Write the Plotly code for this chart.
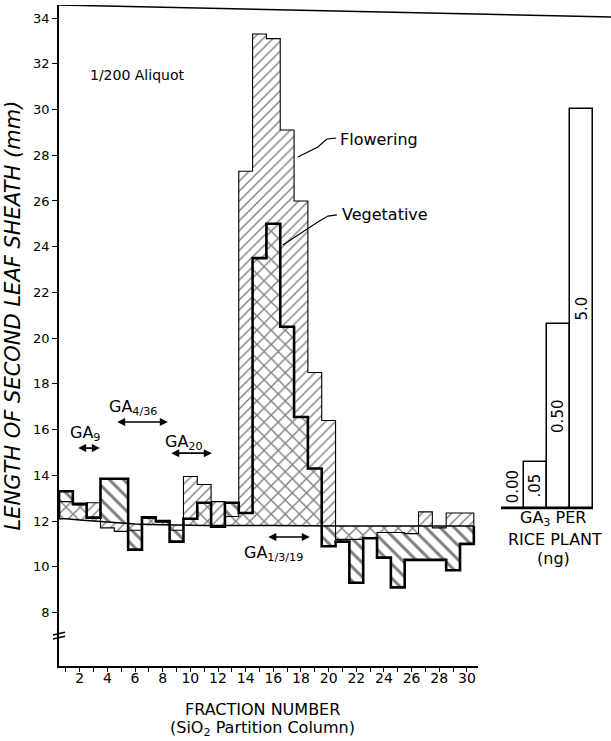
import numpy as np
import plotly.graph_objects as go

# ---------------- data ----------------
fractions = list(range(1, 31))
flowering = [12.85, 12.7, 12.8, 11.7, 11.55, 11.6, 12.2, 11.95, 11.6, 13.95,
             13.6, 12.85, 12.2, 27.3, 33.3, 33.1, 29.1, 26.0, 18.5, 16.4,
             11.2, 11.2, 11.25, 11.5, 11.5, 11.45, 12.4, 11.7, 12.35, 12.35]
vegetative = [13.3, 12.75, 12.15, 13.85, 13.85, 10.75, 12.15, 12.0, 11.1, 12.1,
              12.8, 11.75, 12.8, 12.35, 23.5, 25.0, 20.5, 16.55, 14.3, 10.9,
              11.1, 9.3, 11.25, 10.4, 9.1, 10.3, 10.3, 10.3, 9.85, 11.0]
control = [12.1, 12.05, 12.0, 11.95, 11.9, 11.87, 11.85, 11.83, 11.82, 11.82,
           11.81, 11.8, 11.8, 11.8, 11.8, 11.8, 11.79, 11.79, 11.79, 11.79,
           11.78, 11.78, 11.78, 11.78, 11.78, 11.78, 11.78, 11.78, 11.78, 11.78]
x_tick_values = [2, 4, 6, 8, 10, 12, 14, 16, 18, 20, 22, 24, 26, 28, 30]
x_tick_labels = ["2", "4", "6", "8", "10", "12", "14", "16", "18", "20",
                 "22", "24", "26", "28", "30"]
y_tick_values = [8, 10, 12, 14, 16, 18, 20, 22, 24, 26, 28, 30, 32, 34]

ga3_doses = ["0.00", ".05", "0.50", "5.0"]
ga3_lengths = [12.55, 14.6, 20.6, 30.0]
ga3_control = 12.55

FONT = "DejaVu Sans"

# ---------------- layers (flowering only / vegetative only / overlap) -------
F = np.array(flowering)
V = np.array(vegetative)
C = np.array(control)
fd = F - C
vd = V - C
same = np.sign(fd) == np.sign(vd)
ov = np.where(same, np.sign(fd) * np.minimum(np.abs(fd), np.abs(vd)), 0.0)
layer_base = C + ov

fig = go.Figure()

fig.add_trace(go.Bar(
    x=fractions, y=F - layer_base, base=layer_base, width=1,
    marker=dict(color="white", line_width=0,
                pattern=dict(shape="/", size=7, solidity=0.2,
                             fgcolor="black", bgcolor="white")),
    showlegend=False, hoverinfo="skip"))
fig.add_trace(go.Bar(
    x=fractions, y=V - layer_base, base=layer_base, width=1,
    marker=dict(color="white", line_width=0,
                pattern=dict(shape="\\", size=10, solidity=0.3,
                             fgcolor="black", bgcolor="white")),
    showlegend=False, hoverinfo="skip"))
fig.add_trace(go.Bar(
    x=fractions, y=ov, base=C, width=1,
    marker=dict(color="white", line_width=0,
                pattern=dict(shape="x", size=10, solidity=0.26,
                             fgcolor="black", bgcolor="white")),
    showlegend=False, hoverinfo="skip"))

# step outlines
edge_x = [fractions[0] - 0.5] + [k - 0.5 for k in fractions] + [fractions[-1] + 0.5] * 2
fig.add_trace(go.Scatter(
    x=edge_x, y=[control[0]] + flowering + [flowering[-1], control[-1]],
    mode="lines", line=dict(color="black", width=1.1, shape="hv"),
    showlegend=False, hoverinfo="skip"))
fig.add_trace(go.Scatter(
    x=edge_x, y=[control[0]] + vegetative + [vegetative[-1], control[-1]],
    mode="lines", line=dict(color="black", width=2.6, shape="hv"),
    showlegend=False, hoverinfo="skip"))
# control line
fig.add_trace(go.Scatter(
    x=[fractions[0] - 0.5] + fractions + [fractions[-1] + 0.5],
    y=[control[0]] + control + [control[-1]],
    mode="lines", line=dict(color="black", width=1.5),
    showlegend=False, hoverinfo="skip"))

# GA3 standards
std_x = list(range(len(ga3_doses)))
fig.add_trace(go.Bar(
    x=std_x, y=[v - ga3_control for v in ga3_lengths], base=ga3_control,
    width=1, xaxis="x2", yaxis="y",
    marker=dict(color="white", line=dict(color="black", width=1.5)),
    showlegend=False, hoverinfo="skip"))

ann = []
for i, (lab, val) in enumerate(zip(ga3_doses, ga3_lengths)):
    ymid = max((val + ga3_control) / 2, ga3_control + 0.95)
    ann.append(dict(x=i, y=ymid, xref="x2", yref="y", text=lab, textangle=-90,
                    showarrow=False, font=dict(family=FONT, size=15, color="black")))

def txt(x, y, t, size=15, xanchor="left", xref="x", yref="y", **kw):
    d = dict(x=x, y=y, xref=xref, yref=yref, text=t, showarrow=False,
             xanchor=xanchor, yanchor="middle",
             font=dict(family=FONT, size=size, color="black"))
    d.update(kw)
    return d

def darrow(x0, x1, y):
    return dict(x=x1, y=y, ax=x0, ay=y, xref="x", yref="y", axref="x", ayref="y",
                text="", showarrow=True, arrowhead=2, startarrowhead=2,
                arrowside="end+start", arrowsize=1, startarrowsize=1,
                arrowwidth=1.6, arrowcolor="black")

ann += [
    txt(2.58, 31.5, "1/200 Aliquot", size=14),
    txt(20.67, 28.67, "Flowering", size=16),
    txt(20.81, 25.39, "Vegetative", size=16),
    txt(1.13, 15.85, "GA<sub>9</sub>", size=16),
    txt(3.95, 16.95, "GA<sub>4/36</sub>", size=16),
    txt(8.0, 15.45, "GA<sub>20</sub>", size=16),
    txt(13.72, 10.6, "GA<sub>1/3/19</sub>", size=16),
    darrow(1.78, 3.45, 15.19),
    darrow(4.6, 8.37, 16.33),
    darrow(8.51, 11.55, 14.97),
    darrow(15.53, 18.64, 11.3),
    txt(1.76, 12.1, "GA<sub>3</sub> PER", size=16, xanchor="center", xref="x2"),
    txt(1.85, 11.2, "RICE PLANT", size=16, xanchor="center", xref="x2"),
    txt(1.8, 10.35, "(ng)", size=16, xanchor="center", xref="x2"),
    txt(15.24, -0.066, "FRACTION NUMBER", size=16, xanchor="center", yref="paper"),
    txt(15.24, -0.094, "(SiO<sub>2</sub> Partition Column)", size=16,
        xanchor="center", yref="paper"),
    txt(-0.083, 21.0, "<i>LENGTH OF SECOND LEAF SHEATH (mm)</i>", size=21,
        xanchor="center", xref="paper", textangle=-90),
]

shapes = [
    # top frame line
    dict(type="line", xref="paper", yref="y", x0=0, y0=34.57, x1=1, y1=34.05,
         line=dict(color="black", width=1.5)),
    # axis break marks
    dict(type="line", xref="paper", yref="y", x0=-0.011, y0=7.02, x1=0.011, y1=7.14,
         line=dict(color="black", width=1.5)),
    dict(type="line", xref="paper", yref="y", x0=-0.011, y0=6.84, x1=0.011, y1=6.96,
         line=dict(color="black", width=1.5)),
    # standards floor line
    dict(type="line", xref="x2", yref="y", x0=-0.5, y0=ga3_control, x1=3.5,
         y1=ga3_control, line=dict(color="black", width=1.5)),
    # leader lines
    dict(type="path", xref="x", yref="y",
         path="M 17.77,27.92 L 19.22,28.36 L 19.87,28.71 L 20.52,28.75",
         line=dict(color="black", width=1.2)),
    dict(type="path", xref="x", yref="y",
         path="M 16.69,24.07 L 19.22,25.08 L 19.95,25.34 L 20.6,25.39",
         line=dict(color="black", width=1.2)),
]

fig.update_layout(
    width=611, height=741, autosize=False,
    margin=dict(l=59, r=0, t=5, b=75, pad=0),
    paper_bgcolor="white", plot_bgcolor="white",
    barmode="overlay", bargap=0,
    annotations=ann, shapes=shapes,
    xaxis=dict(domain=[0, 0.759], range=[0.5, 30.8], showline=True,
               linecolor="black", linewidth=1.5, ticks="outside", ticklen=4,
               tickwidth=1.2, tickcolor="black", tickvals=x_tick_values,
               ticktext=x_tick_labels, showgrid=False, zeroline=False,
               ticklabelstandoff=-6,
               minor=dict(ticks="outside", ticklen=4, tickwidth=1.2,
                          tickcolor="black", tickvals=fractions),
               tickfont=dict(family=FONT, size=14, color="black")),
    xaxis2=dict(domain=[0.8007, 0.9674], range=[-0.5, 3.5], anchor="y",
                visible=False),
    yaxis=dict(range=[5.66, 34.57], showline=True, linecolor="black",
               linewidth=1.5, ticks="outside", ticklen=5, tickwidth=1.2,
               tickcolor="black", tickvals=y_tick_values, showgrid=False,
               zeroline=False, tickfont=dict(family=FONT, size=13, color="black")),
)

fig.write_html("out.html",
               config={"displayModeBar": False},
               post_script="document.body.style.margin='0';"
                           "document.body.style.padding='0';"
                           "document.body.style.overflow='hidden';")
